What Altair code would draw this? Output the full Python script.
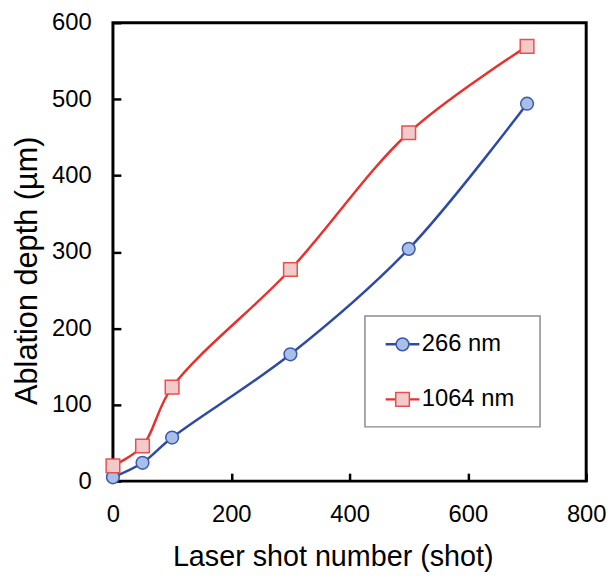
import altair as alt
import pandas as pd

# ---- data ----
series_names = ["266 nm", "1064 nm"]
shots_266 = [0, 50, 100, 300, 500, 700]
depth_266 = [5, 24, 57, 166, 304, 494]
shots_1064 = [0, 50, 100, 300, 500, 700]
depth_1064 = [20, 46, 123, 277, 456, 569]
x_ticks = [0, 200, 400, 600, 800]
y_ticks = [0, 100, 200, 300, 400, 500, 600]

# ---- styles ----
FONT = "Liberation Sans"
line_colors = ["#2D4AA6", "#E8312B"]
marker_fills = ["#A8C0E8", "#F3CACA"]
marker_strokes = ["#3A58B0", "#E8504E"]
marker_shapes = ["circle", "square"]
marker_sizes = [165, 190]

# ---- legend layout (in data units, placed through the chart's scales) ----
LEG_BOX = {"x0": 426, "x1": 722, "y0": 71, "y1": 216}
LEG_ROW_Y = [179, 107]
LEG_STUB_X = (461, 518)
LEG_MARK_X = 489.5
LEG_TEXT_X = 522

df = pd.concat([
    pd.DataFrame({"shots": shots_266, "depth": depth_266, "series": series_names[0]}),
    pd.DataFrame({"shots": shots_1064, "depth": depth_1064, "series": series_names[1]}),
], ignore_index=True)

x_scale = alt.Scale(domain=[0, 800], nice=False, zero=False)
y_scale = alt.Scale(domain=[0, 600], nice=False, zero=False)

x_axis = alt.Axis(
    values=x_ticks, title="Laser shot number (shot)", orient="bottom",
    offset=-8, tickSize=8, tickWidth=2.5, tickColor="black", domain=False,
    grid=False, labelPadding=22, labelFontSize=24, labelFont=FONT, labelFlush=False,
    labelColor="black", titleFont=FONT, titleFontSize=29, titleFontWeight="normal",
    titleColor="black", titleBaseline="alphabetic", titleY=93, titleX=222,
)
y_axis = alt.Axis(
    values=y_ticks, title="Ablation depth (µm)", orient="left",
    offset=-8, tickSize=8, tickWidth=2.5, tickColor="black", domain=False,
    grid=False, labelPadding=22, labelFontSize=24, labelFont=FONT, labelFlush=False,
    labelColor="black", titleFont=FONT, titleFontSize=31, titleFontWeight="normal",
    titleColor="black", titleBaseline="alphabetic", titleX=-85.5, titleY=250,
    titleAngle=270,
)


def xq(field):
    return alt.X(f"{field}:Q", scale=x_scale, axis=x_axis)


def yq(field):
    return alt.Y(f"{field}:Q", scale=y_scale, axis=y_axis)


base = alt.Chart(df)

lines = base.mark_line(interpolate="catmull-rom", strokeWidth=2.5).encode(
    x=xq("shots"), y=yq("depth"),
    color=alt.Color("series:N", scale=alt.Scale(domain=series_names, range=line_colors), legend=None),
)


def marker_layer(data, i):
    return alt.Chart(data).transform_filter(alt.datum.series == series_names[i]).mark_point(
        shape=marker_shapes[i], filled=True, size=marker_sizes[i], fill=marker_fills[i],
        stroke=marker_strokes[i], strokeWidth=1.5, opacity=1,
    ).encode(x=xq("shots"), y=yq("depth"))


# ---- legend drawn with marks ----
box_df = pd.DataFrame({"shots": [LEG_BOX["x0"]], "shots2": [LEG_BOX["x1"]],
                       "depth": [LEG_BOX["y1"]], "depth2": [LEG_BOX["y0"]]})
leg_box = alt.Chart(box_df).mark_rect(fill="white", stroke="#8a8a8a", strokeWidth=1.5).encode(
    x=xq("shots"), x2=alt.X2("shots2"), y=yq("depth"), y2=alt.Y2("depth2"),
)

leg_df = pd.DataFrame({
    "series": series_names,
    "depth": LEG_ROW_Y,
    "shots": [LEG_STUB_X[0]] * 2,
    "stub1": [LEG_STUB_X[1]] * 2,
})
mark_df = pd.DataFrame({"series": series_names, "depth": LEG_ROW_Y, "shots": [LEG_MARK_X] * 2})
text_df = pd.DataFrame({"series": series_names, "depth": LEG_ROW_Y, "shots": [LEG_TEXT_X] * 2})

leg_stubs = alt.Chart(leg_df).mark_rule(strokeWidth=2.5).encode(
    x=xq("shots"), x2=alt.X2("stub1"), y=yq("depth"),
    color=alt.Color("series:N", scale=alt.Scale(domain=series_names, range=line_colors), legend=None),
)
leg_text = alt.Chart(text_df).mark_text(
    align="left", baseline="middle", fontSize=24, font=FONT, color="black",
).encode(x=xq("shots"), y=yq("depth"), text="series:N")

chart = alt.layer(
    lines, marker_layer(df, 0), marker_layer(df, 1),
    leg_box, leg_stubs, marker_layer(mark_df, 0), marker_layer(mark_df, 1), leg_text,
).properties(
    width=478, height=463,
    autosize=alt.AutoSizeParams(type="none"),
    padding={"left": 106, "top": 12, "right": 20, "bottom": 95},
).configure_view(
    stroke="black", strokeWidth=3
)

chart.save("out.html", embed_options={"renderer": "svg", "actions": False})
